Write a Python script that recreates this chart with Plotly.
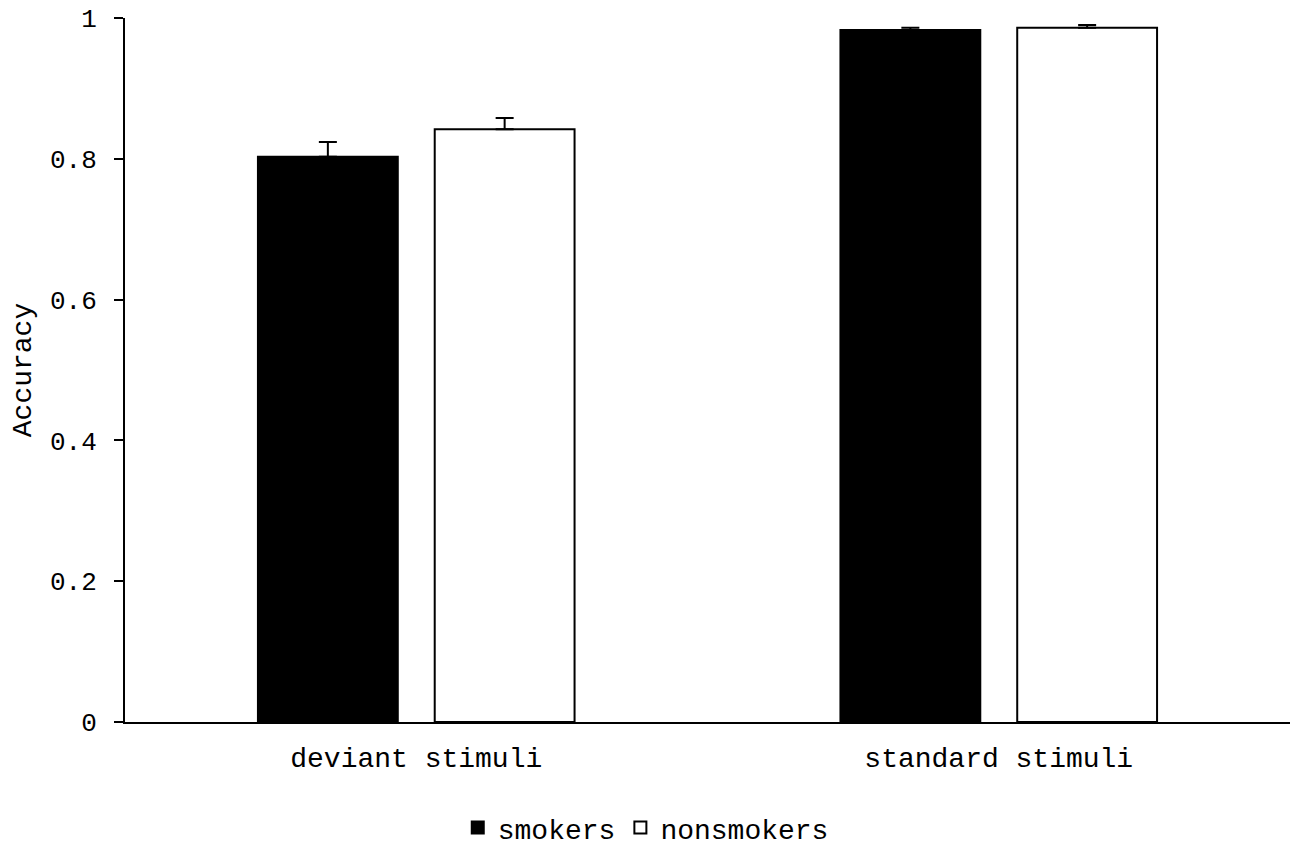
import plotly.graph_objects as go

categories = ['deviant stimuli', 'standard stimuli']
smokers = [0.803, 0.983]
smokers_err = [0.021, 0.003]
nonsmokers = [0.842, 0.986]
nonsmokers_err = [0.016, 0.004]
y_ticks = [0, 0.2, 0.4, 0.6, 0.8, 1]
y_tick_labels = ['0', '0.2', '0.4', '0.6', '0.8', '1']

font_name = 'Liberation Mono, monospace'

fig = go.Figure()
fig.add_trace(go.Bar(
    x=categories, y=smokers, name='smokers',
    marker=dict(color='black', line=dict(color='black', width=2)),
    error_y=dict(type='data', array=smokers_err, arrayminus=[0, 0], symmetric=False,
                 color='black', thickness=2, width=9)
))
fig.add_trace(go.Bar(
    x=categories, y=nonsmokers, name='nonsmokers',
    marker=dict(color='white', line=dict(color='black', width=2)),
    error_y=dict(type='data', array=nonsmokers_err, arrayminus=[0, 0], symmetric=False,
                 color='black', thickness=2, width=9)
))

fig.update_layout(
    width=1300, height=847,
    margin=dict(l=117, r=18, t=10, b=133),
    barmode='group', bargap=0.393, bargroupgap=0.209,
    plot_bgcolor='white', paper_bgcolor='white',
    font=dict(family=font_name, size=26, color='black'),
    showlegend=True,
    legend=dict(orientation='h', x=0.447, xanchor='center',
                yref='container', y=0.032, yanchor='middle',
                font=dict(family=font_name, size=28), itemwidth=30,
                traceorder='normal'),
)
fig.update_yaxes(
    range=[0, 1], tickvals=y_ticks, ticktext=y_tick_labels,
    showline=True, linecolor='black', linewidth=2,
    ticks='outside', ticklen=9, tickwidth=2, tickcolor='black',
    showgrid=False, zeroline=False, automargin=False,
    ticklabelstandoff=12, ticklabeloverflow='allow',
    title=dict(text='Accuracy', font=dict(family=font_name, size=28), standoff=15),
    tickfont=dict(family=font_name, size=26),
)
fig.update_xaxes(
    showline=True, linecolor='black', linewidth=2, ticks='',
    showgrid=False, automargin=False, ticklabelstandoff=9,
    tickfont=dict(family=font_name, size=28),
)

fig.write_html("out.html")
